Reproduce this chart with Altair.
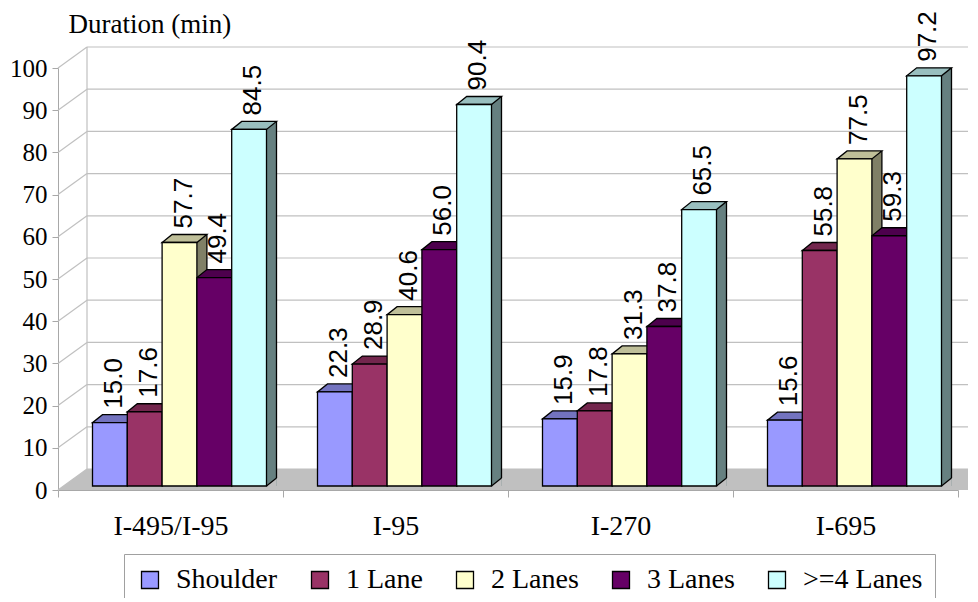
import altair as alt
import pandas as pd

# durations (min) by road and blocked lanes
roads = ['I-495/I-95', 'I-95', 'I-270', 'I-695']
lanes = ['Shoulder', '1 Lane', '2 Lanes', '3 Lanes', '>=4 Lanes']
shoulder = [15.0, 22.3, 15.9, 15.6]
lane_1 = [17.6, 28.9, 17.8, 55.8]
lane_2 = [57.7, 40.6, 31.3, 77.5]
lane_3 = [49.4, 56.0, 37.8, 59.3]
lane_4 = [84.5, 90.4, 65.5, 97.2]
y_ticks = [0, 10, 20, 30, 40, 50, 60, 70, 80, 90, 100]

front_colors = ['#9999FF', '#993366', '#FFFFCC', '#660066', '#CCFFFF']
top_colors = ['#7373BF', '#73264D', '#BFBF99', '#4D004D', '#99BFBF']
side_colors = ['#4D4D80', '#4D1A33', '#808066', '#330033', '#668080']

rows = []
for lane, vals in zip(lanes, [shoulder, lane_1, lane_2, lane_3, lane_4]):
    for road, v in zip(roads, vals):
        rows.append({'Road': road, 'Lane': lane, 'Duration': v})
df = pd.DataFrame(rows)

# layout (pixels)
W, H = 900, 422
BAND = W / len(roads)
BAR = 34.8
LEFT = 34.5
DX, DY = 10, 8          # bar depth
LIFT = 4                # bars sit slightly back on the floor
WX, WY = 29, 21         # wall depth
GRAY = '#c0c0c0'
SERIF = 'Liberation Serif'

x_enc = alt.X('Road:N', sort=roads,
              scale=alt.Scale(domain=roads, paddingInner=0, paddingOuter=0),
              axis=alt.Axis(title=None, labelAngle=0, labelPadding=15, labelFontSize=28,
                            labelFont=SERIF, tickSize=7, tickBand='extent'))
y_enc = alt.Y('Duration:Q',
              scale=alt.Scale(domain=[0, 100], nice=False, zero=True),
              axis=alt.Axis(values=y_ticks, grid=False, labelFontSize=25, labelPadding=5,
                            labelFont=SERIF, tickSize=6, title='Duration (min)', titleAngle=0,
                            titleAlign='left', titleBaseline='alphabetic',
                            titleX=10, titleY=-36))

grid_df = pd.DataFrame({'Duration': y_ticks})
floor_path = f'M0,0 L{W + 80},0 L{W + 80 + WX},{-WY} L{WX},{-WY} Z'

floor = alt.Chart(pd.DataFrame({'Duration': [0]})).mark_point(
    shape=floor_path, size=4, filled=True, fill=GRAY, strokeWidth=0, opacity=1
).encode(x=alt.value(0), y=y_enc)

back_grid = alt.Chart(grid_df).mark_rule(color=GRAY, strokeWidth=1.2, yOffset=-WY).encode(
    x=alt.value(WX), x2=alt.value(W + 80), y=y_enc)

side_grid = alt.Chart(grid_df).mark_rule(color=GRAY, strokeWidth=1.2, y2Offset=-WY).encode(
    x=alt.value(0), x2=alt.value(WX), y=y_enc, y2=alt.Y2('Duration'))

back_edge = alt.Chart(pd.DataFrame({'Duration': [0]})).mark_rule(
    color=GRAY, strokeWidth=1.2, yOffset=-WY, y2Offset=-WY
).encode(x=alt.value(WX), y=y_enc, y2=alt.datum(100))

side_layers, top_layers, front_layers, label_layers = [], [], [], []
legend = alt.Legend(orient='none', legendX=66, legendY=486, direction='horizontal', title=None,
                    symbolType='square', symbolSize=289, symbolStrokeColor='black',
                    symbolStrokeWidth=1.3, symbolOpacity=1, labelFontSize=28,
                    labelFont=SERIF, labelOffset=12, columnPadding=28, labelLimit=0,
                    padding=12, strokeColor='#a0a0a0', fillColor='white')

for k, lane in enumerate(lanes):
    off = LEFT + (k + 0.5) * BAR - BAND / 2
    base = alt.Chart(df).transform_filter(alt.datum.Lane == lane)

    side_layers.append(base.mark_bar(
        width=DX, xOffset=off + BAR / 2 + DX / 2, yOffset=-(LIFT + DY), y2Offset=-LIFT,
        fill=side_colors[k], strokeWidth=0, opacity=1
    ).encode(x=x_enc, y=y_enc, y2=alt.datum(0)))
    side_layers.append(base.mark_rule(
        xOffset=off + BAR / 2 + DX, yOffset=-(LIFT + DY), y2Offset=-(LIFT + DY),
        color='black', strokeWidth=1.3
    ).encode(x=x_enc, y=y_enc, y2=alt.datum(0)))
    side_layers.append(base.mark_point(
        shape=f'M0,{-LIFT} L0,{-LIFT - DY} L{DX},{-LIFT - DY} Z', size=4, filled=True,
        fill='white', strokeWidth=0, opacity=1, xOffset=off + BAR / 2
    ).encode(x=x_enc, y=y_enc))
    side_layers.append(base.mark_point(
        shape=f'M0,{-LIFT} L{DX},{-LIFT - DY} L{DX},{-LIFT} Z', size=4, filled=True,
        fill=GRAY, strokeWidth=0, opacity=1, xOffset=off + BAR / 2
    ).encode(x=x_enc, y=alt.datum(0)))
    side_layers.append(base.mark_point(
        shape=f'M0,{-LIFT} L{DX},{-LIFT - DY}', size=4, filled=False,
        stroke='black', strokeWidth=1.3, opacity=1, xOffset=off + BAR / 2
    ).encode(x=x_enc, y=alt.datum(0)))

    top_layers.append(base.mark_point(
        shape=(f'M{-BAR / 2},{-LIFT} L{BAR / 2},{-LIFT} L{BAR / 2 + DX},{-LIFT - DY} '
               f'L{-BAR / 2 + DX},{-LIFT - DY} Z'),
        size=4, filled=True, fill=top_colors[k], stroke='black', strokeWidth=1.3,
        opacity=1, xOffset=off
    ).encode(x=x_enc, y=y_enc))

    front_layers.append(base.mark_bar(
        width=BAR, xOffset=off, yOffset=-LIFT, y2Offset=-LIFT,
        stroke='black', strokeWidth=1.3, opacity=1
    ).encode(
        x=x_enc, y=y_enc, y2=alt.datum(0),
        color=alt.Color('Lane:N', scale=alt.Scale(domain=lanes, range=front_colors),
                        legend=legend)))

    label_layers.append(base.mark_text(
        angle=270, align='left', baseline='middle', xOffset=off + 4,
        yOffset=-(LIFT + DY + 6), style='barlabel'
    ).encode(x=x_enc, y=y_enc, text=alt.Text('Duration:Q', format='.1f')))

chart = alt.layer(
    floor, back_grid, side_grid, back_edge,
    *side_layers, *top_layers, *front_layers, *label_layers
).properties(
    width=W, height=H,
    padding={'left': 50, 'top': 60, 'right': 10, 'bottom': 590 - 60 - H},
    autosize=alt.AutoSizeParams(type='none')
).configure(
    style={'barlabel': {'font': 'Liberation Sans', 'fontSize': 26, 'fill': 'black'},
           'guide-label': {'font': SERIF, 'fill': 'black'}}
).configure_view(
    stroke=None
).configure_axis(
    labelFont=SERIF, labelColor='black', tickColor='#a8a8a8', domainColor='#a8a8a8',
    titleFont=SERIF, titleFontSize=27, titleFontWeight='normal', titleColor='black'
).configure_legend(
    labelFont=SERIF, labelColor='black'
)

chart.save('out.html', embed_options={'renderer': 'svg', 'actions': False})
